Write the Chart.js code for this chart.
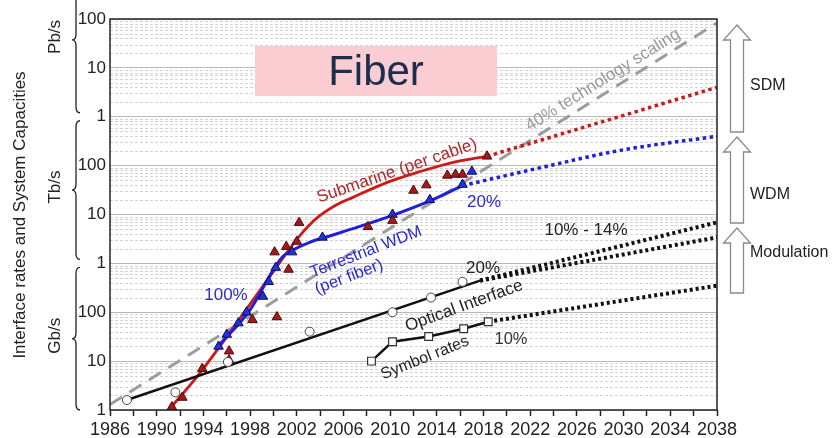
<!DOCTYPE html>
<html>
<head>
<meta charset="utf-8">
<script src="https://cdn.jsdelivr.net/npm/chart.js@4.4.1/dist/chart.umd.min.js"></script>
<style>
  html, body { margin: 0; padding: 0; background: #fff; }
</style>
</head>
<body>
<canvas id="chart" width="833" height="438"></canvas>
<script>
// values, rates in Gb/s
var scalingYears = [1986, 2038];
var scalingRates = [1.3, 8.3e7];

var subYears = [1991.1, 1993.7, 2000.3, 2002.0, 2003.1, 2004.0, 2005.3, 2006.8, 2009.7, 2012.6, 2015.4, 2018.3];
var subRates = [1.05, 5.7, 860, 3100, 6200, 9600, 15300, 22400, 45000, 76000, 117000, 155000];
var subFcYears = [2018.3, 2038];
var subFcRates = [155000, 4000000];

var terYears = [1995.2, 1998.0, 2000.0, 2000.8, 2001.7, 2003.1, 2004.6, 2007.4, 2010.2, 2013.4, 2016.2];
var terRates = [19.6, 112, 745, 1380, 1900, 2700, 3500, 5700, 9600, 19000, 39000];
var terFcYears = [2016.2, 2022.9, 2029.7, 2038];
var terFcRates = [39000, 91000, 205000, 400000];

var subPtYears = [1991.3, 1992.2, 1993.9, 1996.2, 1996.2, 1998.2, 2000.1, 2000.3, 2001.1, 2001.3, 2002.0, 2002.2, 2008.1, 2010.2, 2012.0, 2013.1, 2014.9, 2015.6, 2016.2, 2018.3];
var subPtRates = [1.15, 1.8, 7, 16, 10.5, 70, 1700, 80, 2200, 750, 2800, 6800, 5600, 7500, 31000, 40000, 63000, 66000, 66000, 155000];

var terPtYears = [1995.3, 1996.0, 1997.0, 1997.7, 1999.1, 1999.6, 2000.2, 2001.6, 2004.2, 2010.2, 2013.4, 2016.2, 2017.0];
var terPtRates = [20, 35, 60, 100, 210, 420, 820, 1700, 3400, 10000, 20000, 41000, 76000];

var ifLineYears = [1987.45, 2017.7];
var ifLineRates = [1.6, 445];
var ifFcYears = [2017.7, 2038];
var ifFcHigh = [445, 6900];
var ifFcLow = [445, 3400];
var ifYears = [1987.45, 1991.6, 1996.1, 2003.1, 2010.2, 2013.5, 2016.2];
var ifRates = [1.6, 2.3, 9.6, 40, 100, 200, 420];

var symYears = [2008.4, 2010.2, 2013.3, 2016.3, 2018.4];
var symRates = [10, 25, 32, 46, 64];
var symFcYears = [2018.4, 2038];
var symFcRates = [64, 350];

var yTickLabels = ['1', '10', '100', '1', '10', '100', '1', '10', '100'];
var unitLabels = ['Gb/s', 'Tb/s', 'Pb/s'];
var stepLabels = ['SDM', 'WDM', 'Modulation'];

var FONT = '"Liberation Sans", Arial, sans-serif';

function pts(xs, ys) {
    return xs.map(function (x, i) { return { x: x, y: ys[i] }; });
}

function line(data, color, width, dash) {
    return {
        data: data,
        showLine: true,
        borderColor: color,
        borderWidth: width,
        borderDash: dash || [],
        borderCapStyle: 'butt',
        pointRadius: 0,
        cubicInterpolationMode: 'monotone'
    };
}

function marks(data, style, radius, fill, edge) {
    return {
        data: data,
        showLine: false,
        pointStyle: style,
        pointRadius: radius,
        backgroundColor: fill,
        borderColor: edge,
        borderWidth: 1
    };
}

function txt(ctx, s, x, y, deg, color, size, align) {
    ctx.save();
    ctx.translate(x, y);
    ctx.rotate(deg * Math.PI / 180);
    ctx.font = size + 'px ' + FONT;
    ctx.fillStyle = color;
    ctx.textAlign = align || 'center';
    ctx.textBaseline = 'middle';
    ctx.fillText(s, 0, 0);
    ctx.restore();
}

function brace(ctx, x, y1, y2) {
    var ym = (y1 + y2) / 2, w = 4, r = 6;
    ctx.beginPath();
    ctx.moveTo(x + w, y1);
    ctx.quadraticCurveTo(x, y1, x, y1 + r);
    ctx.lineTo(x, ym - r);
    ctx.quadraticCurveTo(x, ym, x - w, ym);
    ctx.quadraticCurveTo(x, ym, x, ym + r);
    ctx.lineTo(x, y2 - r);
    ctx.quadraticCurveTo(x, y2, x + w, y2);
    ctx.stroke();
}

function upArrow(ctx, cx, tip, head, bottom) {
    ctx.beginPath();
    ctx.moveTo(cx, tip);
    ctx.lineTo(cx + 13.5, head);
    ctx.lineTo(cx + 6.5, head);
    ctx.lineTo(cx + 6.5, bottom);
    ctx.lineTo(cx - 6.5, bottom);
    ctx.lineTo(cx - 6.5, head);
    ctx.lineTo(cx - 13.5, head);
    ctx.closePath();
    ctx.fillStyle = '#fff';
    ctx.fill();
    ctx.stroke();
}

var decor = {
    id: 'decor',
    beforeDatasetsDraw: function (chart) {
        var ctx = chart.ctx, a = chart.chartArea, y = chart.scales.y;
        // minor log grid
        ctx.save();
        ctx.strokeStyle = '#d2d2d2';
        ctx.lineWidth = 1;
        ctx.setLineDash([3, 2]);
        for (var k = 0; k < 8; k++) {
            for (var m = 2; m <= 9; m++) {
                var py = Math.round(y.getPixelForValue(m * Math.pow(10, k))) + 0.5;
                ctx.beginPath();
                ctx.moveTo(a.left, py);
                ctx.lineTo(a.right, py);
                ctx.stroke();
            }
        }
        ctx.restore();
        // title box
        ctx.save();
        ctx.fillStyle = '#f9cdd1';
        ctx.fillRect(255, 46, 242, 50);
        ctx.font = '42px ' + FONT;
        ctx.fillStyle = '#1d2d4d';
        ctx.textAlign = 'center';
        ctx.textBaseline = 'alphabetic';
        ctx.fillText('Fiber', 376, 85);
        ctx.restore();
    },
    afterDatasetsDraw: function (chart) {
        var ctx = chart.ctx, a = chart.chartArea, y = chart.scales.y;
        ctx.save();
        ctx.strokeStyle = '#222';
        ctx.lineWidth = 1.5;
        ctx.strokeRect(a.left, a.top, a.right - a.left, a.bottom - a.top);

        // axis title, unit braces
        txt(ctx, 'Interface rates and System Capacities', 20, 215, -90, '#222', 17);
        ctx.lineWidth = 1.3;
        for (var u = 0; u < 3; u++) {
            var top = y.getPixelForValue(Math.pow(10, 3 * u + 3));
            var bot = y.getPixelForValue(Math.pow(10, 3 * u));
            var y1 = u === 2 ? top - 3 : top + 4;
            var y2 = u === 0 ? bot : bot - 4;
            brace(ctx, 76, y1, y2);
            txt(ctx, unitLabels[u], 55, (y1 + y2) / 2 - 3, -90, '#222', 17);
        }

        // curve labels
        txt(ctx, 'Submarine (per cable)', 397, 171, -19, '#b3262a', 17);
        txt(ctx, 'Terrestrial WDM', 366, 252, -21, '#2a2ad0', 16.5);
        txt(ctx, '(per fiber)', 349, 277, -21, '#2a2ad0', 16.5);
        txt(ctx, '100%', 226, 295, 0, '#2a2ad0', 17);
        txt(ctx, '20%', 484, 202, 0, '#2a2ad0', 17);
        txt(ctx, '40% technology scaling', 603, 80, -32, '#9a9a9a', 17);
        txt(ctx, '10% - 14%', 586, 230, 0, '#222', 17);
        txt(ctx, '20%', 483, 268, 0, '#222', 17);
        txt(ctx, 'Optical Interface', 464, 306, -20, '#222', 17);
        txt(ctx, 'Symbol rates', 425, 358, -22, '#222', 16);
        txt(ctx, '10%', 511, 339, 0, '#333', 16.5);

        // technology steps on the right
        ctx.strokeStyle = '#8a8a8a';
        ctx.lineWidth = 1.3;
        upArrow(ctx, 737, 25, 40, 132);
        upArrow(ctx, 737, 137, 152, 223);
        upArrow(ctx, 737, 228, 243, 293);
        txt(ctx, stepLabels[0], 750, 86, 0, '#222', 16, 'left');
        txt(ctx, stepLabels[1], 750, 195, 0, '#222', 16, 'left');
        txt(ctx, stepLabels[2], 750, 253, 0, '#222', 16, 'left');
        ctx.restore();
    }
};

// first entries are drawn on top
var datasets = [
    marks(pts(ifYears, ifRates), 'circle', 4.5, '#fff', '#444'),
    {
        data: pts(symYears, symRates),
        showLine: true,
        borderColor: '#111',
        borderWidth: 2.5,
        pointStyle: 'rect',
        pointRadius: 5.5,
        pointBackgroundColor: '#fff',
        pointBorderColor: '#333',
        pointBorderWidth: 1.2
    },
    marks(pts(subPtYears, subPtRates), 'triangle', 5.5, '#a3191d', '#4d0808'),
    marks(pts(terPtYears, terPtRates), 'triangle', 5.5, '#2233d6', '#0b0b5c'),
    line(pts(ifLineYears, ifLineRates), '#111', 2.5),
    line(pts(ifFcYears, ifFcHigh), '#111', 4, [3, 3]),
    line(pts(ifFcYears, ifFcLow), '#111', 4, [3, 3]),
    line(pts(symFcYears, symFcRates), '#111', 4, [3, 3]),
    line(pts(terYears, terRates), '#1f1fdd', 3),
    line(pts(terFcYears, terFcRates), '#1f1fdd', 3.5, [3.5, 3.5]),
    line(pts(subYears, subRates), '#cc1a1a', 2.8),
    line(pts(subFcYears, subFcRates), '#cc1a1a', 3.5, [3.5, 3.5]),
    line(pts(scalingYears, scalingRates), '#9c9c9c', 3, [14, 9])
];

new Chart(document.getElementById('chart'), {
    type: 'scatter',
    data: { datasets: datasets },
    options: {
        responsive: false,
        animation: false,
        layout: { padding: { left: 0, right: 116, top: 19, bottom: 0 } },
        plugins: { legend: { display: false }, tooltip: { enabled: false } },
        scales: {
            x: {
                type: 'linear',
                min: 1986,
                max: 2038,
                afterBuildTicks: function (s) {
                    var t = [];
                    for (var v = 1986; v <= 2038; v += 2) t.push({ value: v });
                    s.ticks = t;
                },
                afterFit: function (s) { s.height = 28; },
                ticks: {
                    autoSkip: false,
                    maxRotation: 0,
                    padding: 3,
                    color: '#222',
                    font: { size: 18, family: FONT },
                    callback: function (v) { return (v - 1986) % 4 === 0 ? String(v) : ''; }
                },
                grid: { drawOnChartArea: false, drawTicks: true, tickLength: 6, tickColor: '#222', tickWidth: 1.5 },
                border: { display: false }
            },
            y: {
                type: 'logarithmic',
                min: 1,
                max: 1e8,
                afterBuildTicks: function (s) {
                    s.ticks = yTickLabels.map(function (l, k) { return { value: Math.pow(10, k) }; });
                },
                afterFit: function (s) { s.width = 110; },
                ticks: {
                    padding: 4,
                    color: '#222',
                    font: { size: 17, family: FONT },
                    callback: function (v) { return yTickLabels[Math.round(Math.log10(v))]; }
                },
                grid: { color: '#bdb9b0', lineWidth: 1, drawTicks: false },
                border: { display: false }
            }
        }
    },
    plugins: [decor]
});
</script>
</body>
</html>
